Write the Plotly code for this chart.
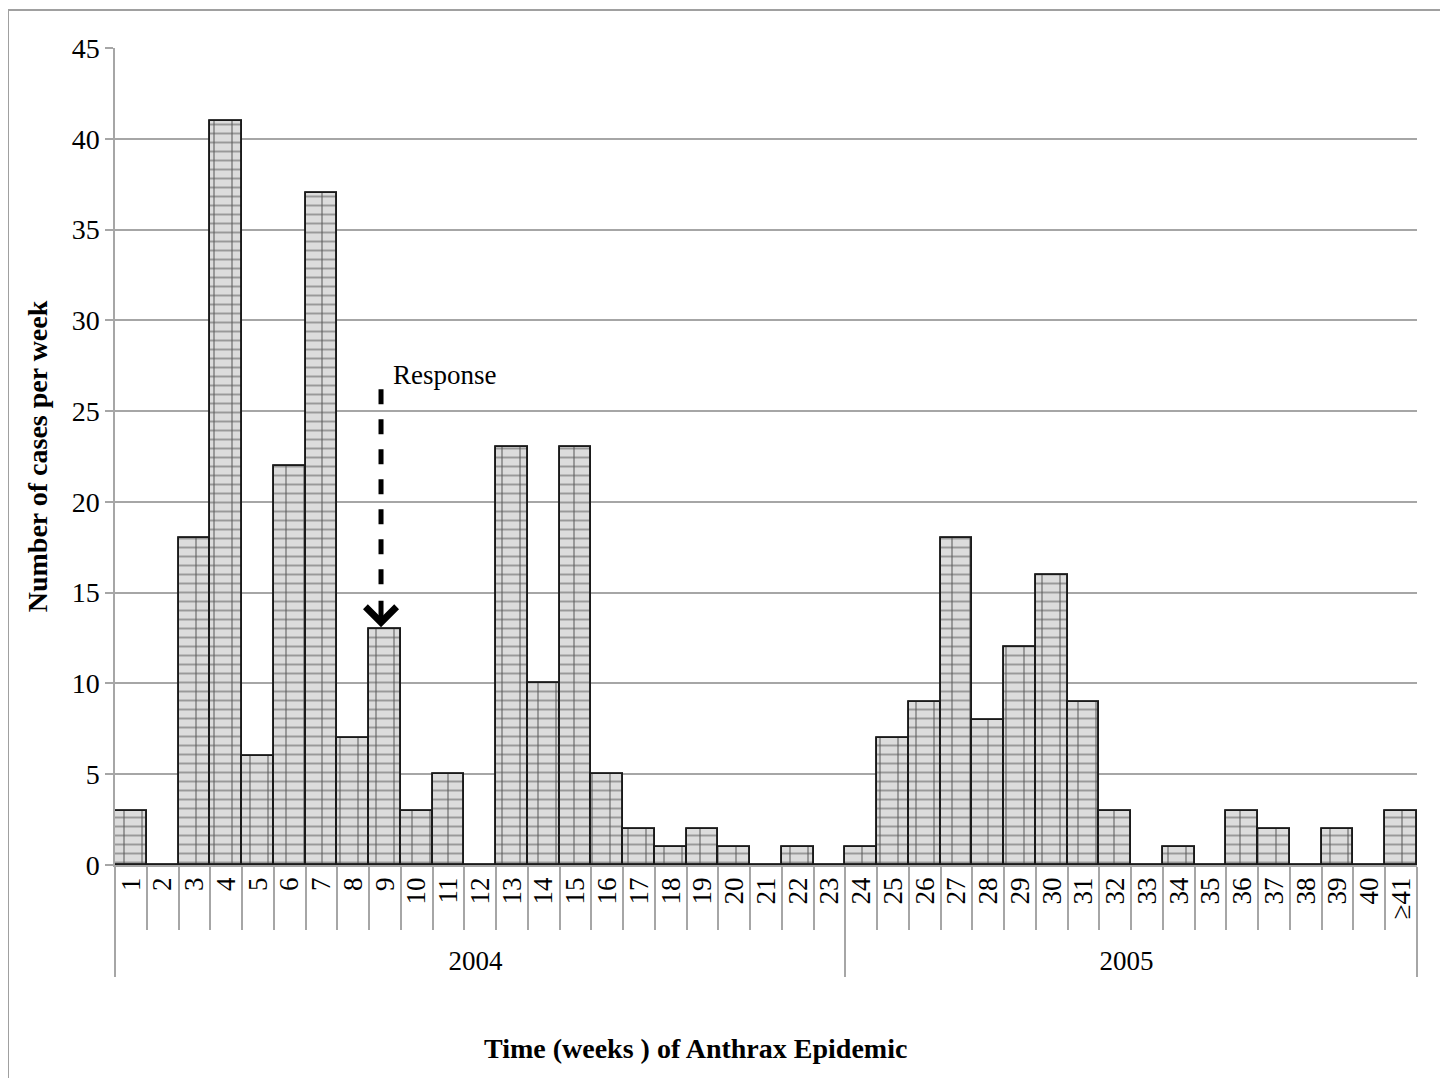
import plotly.graph_objects as go

weeks = [str(i) for i in range(1, 41)] + ["≥41"]
years = ["2004"] * 23 + ["2005"] * 18
cases = [3, 0, 18, 41, 6, 22, 37, 7, 13, 3, 5, 0, 23, 10, 23, 5, 2, 1, 2, 1, 0, 1, 0,
         1, 7, 9, 18, 8, 12, 16, 9, 3, 0, 1, 0, 3, 2, 0, 2, 0, 3]
y_ticks = list(range(0, 50, 5))

x_title = "Time (weeks ) of Anthrax Epidemic"
y_title = "Number of cases per week"
response_week = "9"
response_label = "Response"
arrow_top = 26.2
arrow_tip = 13.1

FONT = "Liberation Serif"
GRID = "#a6a6a6"

fig = go.Figure()
# brick-like fill: horizontal courses
fig.add_trace(go.Bar(
    x=[years, weeks],
    y=cases,
    width=1.0,
    marker=dict(
        color="#dcdcdc",
        line=dict(color="#1a1a1a", width=1.6),
        pattern=dict(shape="-", size=9, fgcolor="#555555", bgcolor="#dcdcdc", solidity=0.22),
    ),
    showlegend=False,
    hoverinfo="skip",
))
# vertical joints + outline
fig.add_trace(go.Bar(
    x=[years, weeks],
    y=cases,
    width=1.0,
    marker=dict(
        color="rgba(0,0,0,0)",
        line=dict(color="#1a1a1a", width=1.8),
        pattern=dict(shape="|", size=18, fgcolor="#555555", bgcolor="rgba(0,0,0,0)", solidity=0.11),
    ),
    showlegend=False,
))

n = len(weeks)
idx = weeks.index(response_week)
xp = (idx + 0.5) / n - 0.003

fig.add_shape(type="line", xref="paper", yref="y", x0=xp, x1=xp, y0=arrow_top, y1=arrow_tip + 1.6,
              line=dict(color="black", width=5, dash="dash"))
fig.add_annotation(xref="paper", yref="y", x=xp, y=arrow_tip, ax=0, ay=-28, showarrow=True,
                   arrowhead=4, arrowsize=1.2, arrowwidth=5, arrowcolor="black", text="")
fig.add_annotation(xref="paper", yref="y", x=xp + 0.008, y=arrow_top + 0.8, xanchor="left", yanchor="middle",
                   showarrow=False, text=response_label, font=dict(family=FONT, size=27, color="black"))

# x-axis title (offset left of plot centre, as in the original)
fig.add_annotation(xref="paper", yref="paper", x=(695 - 115) / 1302, y=(865 - 1048) / 817,
                   xanchor="center", yanchor="middle", showarrow=False,
                   text="<b>" + x_title + "</b>", font=dict(family=FONT, size=28, color="black"))

# outer border
fig.add_shape(type="rect", xref="paper", yref="paper",
              x0=(8 - 115) / 1302, x1=(1445 - 115) / 1302,
              y0=-0.35, y1=1 + 38 / 817,
              line=dict(color="#a0a0a0", width=2), fillcolor="rgba(0,0,0,0)", layer="below")

fig.update_layout(
    width=1448, height=1078,
    margin=dict(l=107, r=39, t=40, b=221),
    paper_bgcolor="white", plot_bgcolor="white",
    bargap=0, barmode="overlay",
    font=dict(family=FONT, color="black"),
    xaxis=dict(
        type="multicategory",
        tickmode="linear", tick0=0, dtick=1,
        showgrid=False,
        showline=True, linecolor=GRID, linewidth=1.5,
        ticks="outside", tickson="boundaries", ticklen=63, tickcolor=GRID, tickwidth=1.5,
        tickangle=-90,
        tickfont=dict(family=FONT, size=27, color="black"),
        showdividers=True, dividercolor=GRID, dividerwidth=1.5,
    ),
    yaxis=dict(
        range=[0, 45], tickvals=y_ticks,
        showgrid=True, gridcolor=GRID, gridwidth=1.5,
        showline=True, linecolor=GRID, linewidth=1.5,
        ticks="outside", ticklen=8, tickcolor=GRID, tickwidth=1.5,
        tickfont=dict(family=FONT, size=28, color="black"),
        zeroline=False,
        title=dict(text="<b>" + y_title + "</b>", font=dict(family=FONT, size=28), standoff=16),
    ),
)

fig.write_html("out.html")
